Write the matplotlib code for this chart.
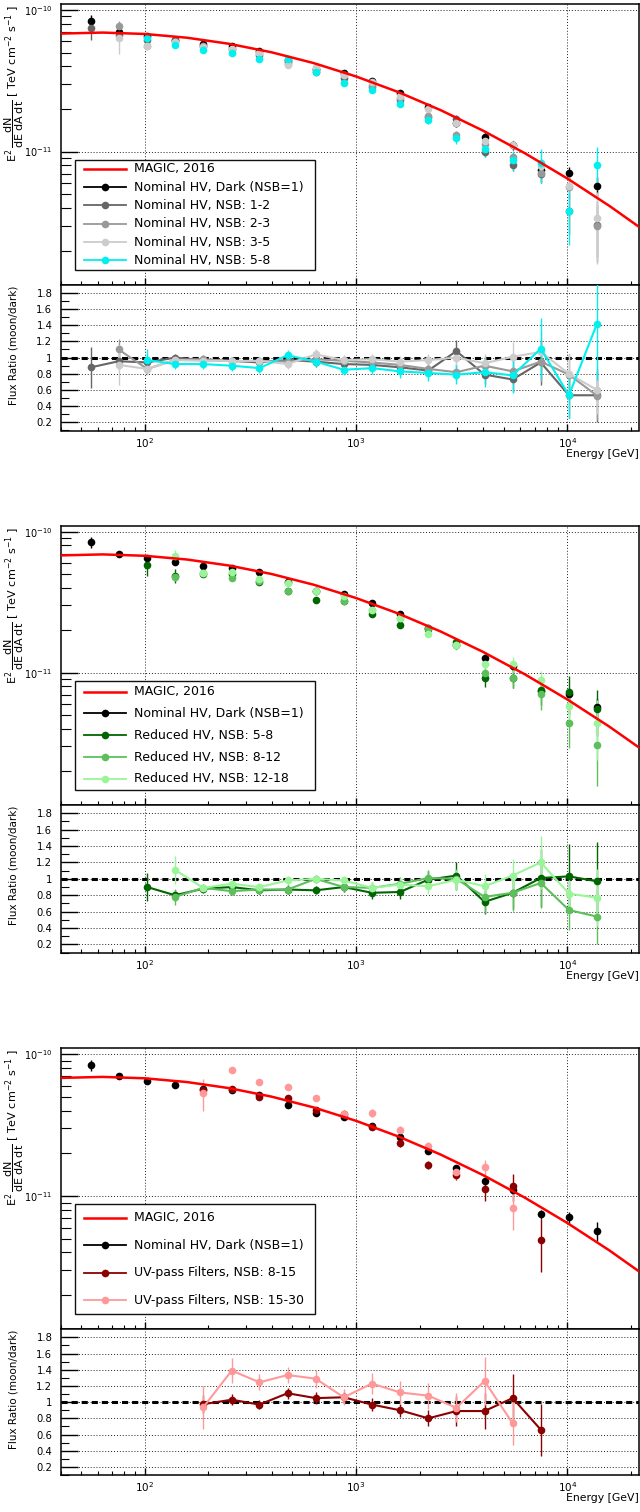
import numpy as np
import matplotlib
matplotlib.use("Agg")
import matplotlib.pyplot as plt
from matplotlib.ticker import (LogLocator, LogFormatterMathtext, MultipleLocator, NullFormatter,
                               FuncFormatter, FixedLocator)
from matplotlib.patches import Rectangle
from matplotlib.lines import Line2D

plt.rcParams['font.family'] = ['DejaVu Sans']
plt.rcParams['mathtext.fontset'] = 'dejavusans'

nan = np.nan
FLUX_UNIT = 1e-11  # all flux values below are in units of 1e-11 TeV cm^-2 s^-1

# ---------------- data ----------------
energy = [55.6, 75.2, 102.7, 139, 189, 258, 349, 474, 644, 875, 1189, 1615,
          2197, 2985, 4056, 5510, 7490, 10180, 13830]

# MAGIC 2016 reference spectrum
magic_e = [39.8, 63.1, 100, 158.5, 251.2, 398.1, 631, 1000, 1585, 2512, 3981,
           6310, 10000, 15850, 25120]
magic_f = [6.80, 6.915, 6.76, 6.36, 5.76, 5.02, 4.21, 3.39, 2.63, 1.962, 1.408,
           0.972, 0.646, 0.413, 0.254]

# Nominal HV, dark
dark_f = [8.4, 7.0, 6.5, 6.1, 5.7, 5.55, 5.15, 4.4, 3.83, 3.59, 3.14, 2.61, 2.07,
          1.58, 1.27, 1.11, 0.743, 0.71, 0.57]
dark_e = [0.75, 0.15, 0.15, 0.15, 0.12, 0.12, 0.12, 0.1, 0.1, 0.1, 0.09, 0.09, 0.08,
          0.08, 0.08, 0.08, 0.05, 0.065, 0.09]

# Panel 1: nominal HV, moon
n12_f = [7.39, 6.69, 6.11, 6.1, 5.53, 5.33, 4.84, 4.27, 3.64, 3.30, 2.86, 2.30, 1.74,
         1.71, 1.00, 0.81, 0.70, 0.38, 0.305]
n12_e = [1.3, 0.4, 0.2, 0.15, 0.15, 0.15, 0.12, 0.12, 0.1, 0.1, 0.1, 0.1, 0.1,
         0.1, 0.08, 0.08, 0.1, 0.12, 0.14]
n23_f = [nan, 7.7, 5.59, 5.92, 5.59, 5.30, 4.94, 4.18, 3.75, 3.45, 2.95, 2.38, 1.78,
         1.30, 1.14, 0.92, 0.71, 0.56, 0.30]
n23_e = [nan, 0.6, 0.2, 0.15, 0.15, 0.15, 0.12, 0.12, 0.1, 0.1, 0.1, 0.1, 0.1,
         0.1, 0.08, 0.08, 0.1, 0.1, 0.12]
n35_f = [nan, 6.37, 5.59, 5.92, 5.47, 5.33, 4.94, 4.05, 3.98, 3.48, 3.08, 2.48, 2.01,
         1.58, 1.18, 1.12, 0.795, 0.568, 0.342]
n35_e = [nan, 1.5, 0.25, 0.15, 0.15, 0.15, 0.12, 0.12, 0.1, 0.1, 0.1, 0.1, 0.1,
         0.1, 0.1, 0.08, 0.1, 0.1, 0.18]
n58_f = [nan, nan, 6.31, 5.61, 5.24, 5.0, 4.48, 4.53, 3.64, 3.05, 2.73, 2.17, 1.68,
         1.25, 1.04, 0.87, 0.825, 0.38, 0.81]
n58_e = [nan, nan, 0.45, 0.15, 0.15, 0.15, 0.15, 0.15, 0.12, 0.12, 0.12, 0.12, 0.12,
         0.12, 0.12, 0.14, 0.22, 0.16, 0.27]

n12_r = [0.88, 0.955, 0.94, 1.0, 0.97, 0.96, 0.94, 0.97, 0.95, 0.92, 0.91, 0.88, 0.84,
         1.08, 0.79, 0.73, 0.94, 0.535, 0.535]
n12_re = [0.25, 0.1, 0.06, 0.05, 0.05, 0.05, 0.05, 0.06, 0.06, 0.06, 0.06, 0.07, 0.08,
          0.14, 0.12, 0.15, 0.28, 0.28, 0.33]
n23_r = [nan, 1.10, 0.86, 0.97, 0.98, 0.955, 0.96, 0.95, 0.98, 0.96, 0.94, 0.91, 0.86,
         0.82, 0.90, 0.83, 0.95, 0.79, 0.53]
n23_re = [nan, 0.13, 0.06, 0.05, 0.05, 0.05, 0.05, 0.06, 0.06, 0.06, 0.06, 0.07, 0.08,
          0.1, 0.12, 0.15, 0.25, 0.25, 0.3]
n35_r = [nan, 0.91, 0.86, 0.97, 0.96, 0.96, 0.96, 0.92, 1.04, 0.97, 0.98, 0.95, 0.97,
         1.00, 0.93, 1.01, 1.07, 0.80, 0.60]
n35_re = [nan, 0.25, 0.07, 0.05, 0.05, 0.05, 0.05, 0.06, 0.06, 0.06, 0.06, 0.07, 0.08,
          0.1, 0.12, 0.18, 0.25, 0.25, 0.3]
n58_r = [nan, nan, 0.97, 0.92, 0.92, 0.90, 0.87, 1.03, 0.95, 0.85, 0.87, 0.83, 0.81,
         0.79, 0.82, 0.78, 1.11, 0.535, 1.42]
n58_re = [nan, nan, 0.13, 0.06, 0.06, 0.06, 0.06, 0.06, 0.06, 0.06, 0.07, 0.08, 0.1,
          0.12, 0.18, 0.22, 0.38, 0.28, 0.7]

# Panel 2: reduced HV
r58_f = [nan, nan, 5.85, 4.88, 5.02, 5.0, 4.43, 3.83, 3.29, 3.23, 2.61, 2.19, 2.05,
         1.64, 0.914, 0.92, 0.75, 0.73, 0.553]
r58_e = [nan, nan, 1.0, 0.55, 0.2, 0.15, 0.15, 0.12, 0.12, 0.12, 0.1, 0.1, 0.1,
         0.1, 0.12, 0.14, 0.16, 0.22, 0.2]
r812_f = [nan, nan, nan, 4.76, 5.07, 4.72, 4.48, 3.83, 3.83, 3.23, 2.79, 2.45, 2.09,
          1.58, 0.99, 0.92, 0.706, 0.44, 0.308]
r812_e = [nan, nan, nan, 0.3, 0.15, 0.15, 0.15, 0.12, 0.12, 0.12, 0.1, 0.1, 0.1,
          0.1, 0.1, 0.14, 0.16, 0.15, 0.15]
r1218_f = [nan, nan, nan, 6.77, 5.07, 5.22, 4.64, 4.31, 3.83, 3.52, 2.79, 2.43, 1.88,
           1.56, 1.16, 1.15, 0.89, 0.58, 0.44]
r1218_e = [nan, nan, nan, 0.6, 0.15, 0.15, 0.15, 0.12, 0.12, 0.12, 0.1, 0.1, 0.1,
           0.1, 0.1, 0.14, 0.14, 0.15, 0.2]

r58_r = [nan, nan, 0.90, 0.80, 0.88, 0.90, 0.86, 0.87, 0.86, 0.90, 0.83, 0.84, 0.99,
         1.04, 0.72, 0.83, 1.01, 1.03, 0.97]
r58_re = [nan, nan, 0.17, 0.07, 0.05, 0.05, 0.05, 0.05, 0.05, 0.06, 0.07, 0.08, 0.1,
          0.17, 0.15, 0.2, 0.35, 0.4, 0.48]
r812_r = [nan, nan, nan, 0.78, 0.89, 0.85, 0.87, 0.87, 1.0, 0.90, 0.89, 0.94, 1.01,
          1.0, 0.78, 0.83, 0.95, 0.62, 0.54]
r812_re = [nan, nan, nan, 0.1, 0.05, 0.05, 0.05, 0.05, 0.05, 0.06, 0.07, 0.08, 0.1,
           0.12, 0.2, 0.22, 0.3, 0.24, 0.33]
r1218_r = [nan, nan, nan, 1.11, 0.89, 0.94, 0.90, 0.98, 1.0, 0.98, 0.89, 0.93, 0.91,
           0.99, 0.91, 1.04, 1.20, 0.82, 0.77]
r1218_re = [nan, nan, nan, 0.17, 0.05, 0.05, 0.05, 0.05, 0.05, 0.06, 0.07, 0.08, 0.1,
            0.12, 0.15, 0.2, 0.32, 0.25, 0.35]

# Panel 3: UV-pass filters
uv815_f = [nan, nan, nan, nan, 5.56, 5.72, 5.0, 4.88, 4.02, 3.81, 3.05, 2.35, 1.66,
           1.41, 1.13, 1.17, 0.49, nan, nan]
uv815_e = [nan, nan, nan, nan, 0.25, 0.2, 0.2, 0.15, 0.15, 0.15, 0.15, 0.12, 0.12,
           0.12, 0.2, 0.25, 0.2, nan, nan]
uv1530_f = [nan, nan, nan, nan, 5.33, 7.71, 6.41, 5.87, 4.94, 3.81, 3.86, 2.92, 2.24,
            1.47, 1.60, 0.82, nan, nan, nan]
uv1530_e = [nan, nan, nan, nan, 1.35, 0.4, 0.3, 0.3, 0.25, 0.2, 0.25, 0.2, 0.15,
            0.15, 0.2, 0.24, nan, nan, nan]

uv815_r = [nan, nan, nan, nan, 0.975, 1.03, 0.97, 1.11, 1.05, 1.06, 0.97, 0.90, 0.80,
           0.89, 0.89, 1.05, 0.66, nan, nan]
uv815_re = [nan, nan, nan, nan, 0.11, 0.07, 0.06, 0.07, 0.07, 0.07, 0.08, 0.08, 0.1,
            0.18, 0.22, 0.3, 0.32, nan, nan]
uv1530_r = [nan, nan, nan, nan, 0.935, 1.39, 1.245, 1.335, 1.29, 1.06, 1.23, 1.12, 1.08,
            0.93, 1.26, 0.74, nan, nan, nan]
uv1530_re = [nan, nan, nan, nan, 0.27, 0.15, 0.1, 0.1, 0.11, 0.1, 0.13, 0.14, 0.16,
             0.18, 0.3, 0.27, nan, nan, nan]

# tick positions
flux_major_ticks = [1e-11, 1e-10]
ratio_major_ticks = [0.2, 0.4, 0.6, 0.8, 1.0, 1.2, 1.4, 1.6, 1.8]
ratio_minor_ticks = [0.1, 0.3, 0.5, 0.7, 0.9, 1.1, 1.3, 1.5, 1.7]
energy_major_ticks = [1e2, 1e3, 1e4]

# ---------------- styling ----------------
C_RED = '#ff0000'
C_DARK = '#000000'

panels = [
    dict(series=[('Nominal HV, NSB: 1-2', '#666666', n12_f, n12_e, n12_r, n12_re),
                 ('Nominal HV, NSB: 2-3', '#999999', n23_f, n23_e, n23_r, n23_re),
                 ('Nominal HV, NSB: 3-5', '#cccccc', n35_f, n35_e, n35_r, n35_re),
                 ('Nominal HV, NSB: 5-8', '#00f0f0', n58_f, n58_e, n58_r, n58_re)],
         box=(4, 284.7, 430.5)),
    dict(series=[('Reduced HV, NSB: 5-8', '#006600', r58_f, r58_e, r58_r, r58_re),
                 ('Reduced HV, NSB: 8-12', '#5cbf5c', r812_f, r812_e, r812_r, r812_re),
                 ('Reduced HV, NSB: 12-18', '#9af59a', r1218_f, r1218_e, r1218_r, r1218_re)],
         box=(526, 805, 952.7)),
    dict(series=[('UV-pass Filters, NSB: 8-15', '#8b0000', uv815_f, uv815_e, uv815_r, uv815_re),
                 ('UV-pass Filters, NSB: 15-30', '#ff9999', uv1530_f, uv1530_e, uv1530_r, uv1530_re)],
         box=(1048.3, 1329.3, 1475)),
]

FW, FH = 640.0, 1512.0
XL, XR = 60.7, 638.8
fig = plt.figure(figsize=(FW / 100, FH / 100), dpi=100)


def rect(ytop, ybot):
    return [XL / FW, 1 - ybot / FH, (XR - XL) / FW, (ybot - ytop) / FH]


GRID = dict(linestyle=(0, (1, 2)), color='#222222', linewidth=0.7)
MS = 5.5
ylab = (r'$\mathrm{E}^{2}\,\dfrac{\mathrm{dN}}{\mathrm{dE\;dA\;dt}}$'
        r' [ TeV cm$^{-2}$ s$^{-1}$ ]')

for p in panels:
    ytop, ymid, ybot = p['box']
    ax = fig.add_axes(rect(ytop, ymid))
    axr = fig.add_axes(rect(ymid, ybot))
    for a in (ax, axr):
        a.set_xscale('log')
        a.set_xlim(40, 21800)
        a.xaxis.set_major_locator(FixedLocator(energy_major_ticks))
        a.xaxis.set_minor_locator(LogLocator(base=10, subs=np.arange(2, 10)))
        a.xaxis.set_minor_formatter(NullFormatter())
        for s in a.spines.values():
            s.set_linewidth(1.1)
        a.tick_params(axis='x', which='major', direction='in', length=5, width=1,
                      top=False, labelsize=7.5, pad=4)
        a.tick_params(axis='x', which='minor', direction='in', length=3, width=0.8, top=False)
        a.grid(True, which='major', **GRID)
        a.set_axisbelow(True)

    # ---- spectrum pad ----
    ax.set_yscale('log')
    ax.set_ylim(1.15e-12, 1.1e-10)
    ax.yaxis.set_major_locator(FixedLocator(flux_major_ticks))
    ax.yaxis.set_major_formatter(LogFormatterMathtext())
    ax.yaxis.set_minor_locator(LogLocator(base=10, subs=np.arange(2, 10)))
    ax.yaxis.set_minor_formatter(NullFormatter())
    ax.tick_params(axis='y', which='major', direction='in', length=12, width=1,
                   right=False, labelsize=7, pad=6)
    ax.tick_params(axis='y', which='minor', direction='in', length=7, width=0.8, right=False)
    ax.xaxis.set_major_formatter(NullFormatter())
    ax.tick_params(axis='x', labelbottom=False)

    ax.errorbar(energy, np.array(dark_f) * FLUX_UNIT, yerr=np.array(dark_e) * FLUX_UNIT,
                fmt='o', color=C_DARK, ms=MS, mew=0, elinewidth=1, capsize=1.5, zorder=3)
    for lab, col, f, fe, r, re in p['series']:
        ax.errorbar(energy, np.array(f) * FLUX_UNIT, yerr=np.array(fe) * FLUX_UNIT,
                    fmt='o', color=col, ms=MS, mew=0, elinewidth=1, capsize=1.5, zorder=3)
    ax.plot(magic_e, np.array(magic_f) * FLUX_UNIT, color=C_RED, lw=1.8, zorder=4)

    ax.text(-0.081, 0.997, ylab, rotation=90, ha='center', va='top',
            fontsize=8, transform=ax.transAxes)

    # legend (ROOT-like box with evenly spaced entries)
    entries = [('MAGIC, 2016', C_RED, False), ('Nominal HV, Dark (NSB=1)', C_DARK, True)]
    entries += [(s[0], s[1], True) for s in p['series']]
    bx0, bx1, by0, by1 = 0.0247, 0.440, 0.054, 0.446
    ax.add_patch(Rectangle((bx0, by0), bx1 - bx0, by1 - by0, transform=ax.transAxes,
                           facecolor='white', edgecolor='#111111', lw=1.0, zorder=10))
    n = len(entries)
    for i, (lab, col, mk) in enumerate(entries):
        yy = by1 - (i + 0.5) * (by1 - by0) / n
        ax.add_line(Line2D([0.0403, 0.113], [yy, yy], color=col,
                           lw=1.8 if not mk else 1.3, transform=ax.transAxes, zorder=11))
        if mk:
            ax.add_line(Line2D([0.0766], [yy], marker='o', ms=MS, mew=0, color=col,
                               transform=ax.transAxes, zorder=12))
        ax.text(0.127, yy, lab, fontsize=9, va='center', ha='left',
                transform=ax.transAxes, zorder=12)

    # ---- ratio pad ----
    axr.set_ylim(0.1, 1.9)
    axr.yaxis.set_major_locator(FixedLocator(ratio_major_ticks))
    axr.yaxis.set_minor_locator(FixedLocator(ratio_minor_ticks))
    axr.yaxis.set_major_formatter(FuncFormatter(lambda v, pos: '%g' % round(v, 2)))
    axr.yaxis.set_minor_formatter(NullFormatter())
    axr.tick_params(axis='y', which='major', direction='in', length=12, width=1,
                    right=False, labelsize=7.2, pad=6)
    axr.tick_params(axis='y', which='minor', direction='in', length=6, width=0.8, right=False)
    axr.xaxis.set_major_formatter(LogFormatterMathtext())
    axr.axhline(1.0, color='black', lw=2.2, ls=(0, (2, 1.3)), zorder=2)
    for lab, col, f, fe, r, re in p['series']:
        axr.errorbar(energy, r, yerr=re, fmt='-o', color=col, ms=MS, mew=0, lw=1.5,
                     elinewidth=1, capsize=1.5, zorder=3)
    axr.text(-0.081, 0.995, 'Flux Ratio (moon/dark)', rotation=90, ha='center', va='top',
             fontsize=7.5, transform=axr.transAxes)
    axr.text(1.0, -0.125, 'Energy [GeV]', ha='right', va='top', fontsize=7.8,
             transform=axr.transAxes)

fig.savefig('out.png', dpi=100)
